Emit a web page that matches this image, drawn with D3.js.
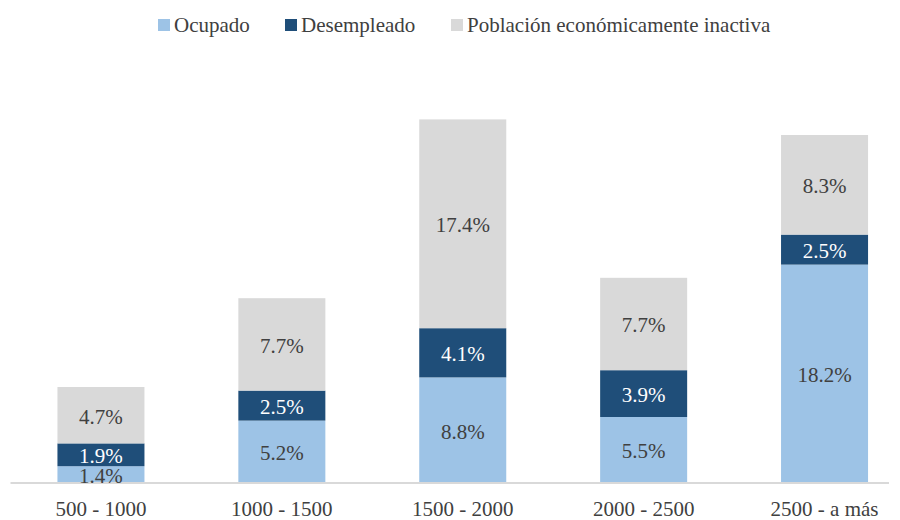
<!DOCTYPE html>
<html>
<head>
<meta charset="utf-8">
<script src="https://cdn.jsdelivr.net/npm/d3@7"></script>
<style>
  body { margin: 0; background: #fff; }
</style>
</head>
<body>
<div id="container"></div>
<script>
const categories = ["500 - 1000", "1000 - 1500", "1500 - 2000", "2000 - 2500", "2500 - a más"];
const seriesNames = ["Ocupado", "Desempleado", "Población económicamente inactiva"];
const ocupado = [1.4, 5.2, 8.8, 5.5, 18.2];
const desempleado = [1.9, 2.5, 4.1, 3.9, 2.5];
const inactiva = [4.7, 7.7, 17.4, 7.7, 8.3];
const colors = ["#9DC3E6", "#1F4E79", "#D9D9D9"];
const labelColors = ["#404040", "#ffffff", "#404040"];
const FONT = "'Liberation Serif', 'Times New Roman', serif";

window.addEventListener("load", () => {
  const width = 900, height = 520;
  const margin = {top: 63, right: -15, bottom: 37, left: 10.5};

  const svg = d3.select("#container")
    .append("svg")
    .attr("width", width)
    .attr("height", height)
    .style("font-family", FONT);

  const data = categories.map((c, i) => ({
    cat: c, s0: ocupado[i], s1: desempleado[i], s2: inactiva[i]
  }));
  const stack = d3.stack().keys(["s0", "s1", "s2"])(data);

  const x = d3.scaleBand()
    .domain(categories)
    .range([margin.left, width - margin.right])
    .paddingInner(0.519)
    .paddingOuter(0.2595);

  const y = d3.scaleLinear()
    .domain([0, 35])
    .range([height - margin.bottom, margin.top]);

  const layers = svg.selectAll(".layer")
    .data(stack)
    .enter()
    .append("g")
    .attr("class", "layer")
    .attr("fill", (d, i) => colors[i]);

  layers.selectAll("rect")
    .data(d => d)
    .enter()
    .append("rect")
    .attr("x", d => x(d.data.cat))
    .attr("width", x.bandwidth())
    .attr("y", d => y(d[1]))
    .attr("height", d => y(d[0]) - y(d[1]));

  // axis line
  const xAxis = svg.append("g")
    .attr("transform", "translate(0," + y(0) + ")")
    .call(d3.axisBottom(x).tickSize(0).tickPadding(18));
  xAxis.attr("font-family", null);
  xAxis.select(".domain")
    .attr("d", "M" + margin.left + ",0H" + (width - 11))
    .attr("stroke", "#D9D9D9").attr("stroke-width", 2);
  xAxis.selectAll(".tick text")
    .attr("font-size", 21)
    .attr("fill", "#404040")
    .style("font-family", FONT);

  // value labels
  stack.forEach((layer, li) => {
    svg.append("g")
      .selectAll("text")
      .data(layer)
      .enter()
      .append("text")
      .attr("x", d => x(d.data.cat) + x.bandwidth() / 2)
      .attr("y", d => (y(d[0]) + y(d[1])) / 2 + 1)
      .attr("dy", "0.35em")
      .attr("text-anchor", "middle")
      .attr("font-size", 21)
      .attr("fill", labelColors[li])
      .style("font-family", FONT)
      .text(d => (d[1] - d[0]).toFixed(1) + "%");
  });

  // legend
  const legendX = [158, 285, 451];
  const legend = svg.append("g")
    .selectAll("g")
    .data(seriesNames)
    .enter()
    .append("g")
    .attr("transform", (d, i) => "translate(" + legendX[i] + ",25)");
  legend.append("rect")
    .attr("x", 0)
    .attr("y", -6)
    .attr("width", 12)
    .attr("height", 12)
    .attr("fill", (d, i) => colors[i]);
  legend.append("text")
    .attr("x", 16)
    .attr("dy", "0.35em")
    .attr("font-size", 21)
    .attr("fill", "#404040")
    .style("font-family", FONT)
    .text(d => d);
});
</script>
</body>
</html>
